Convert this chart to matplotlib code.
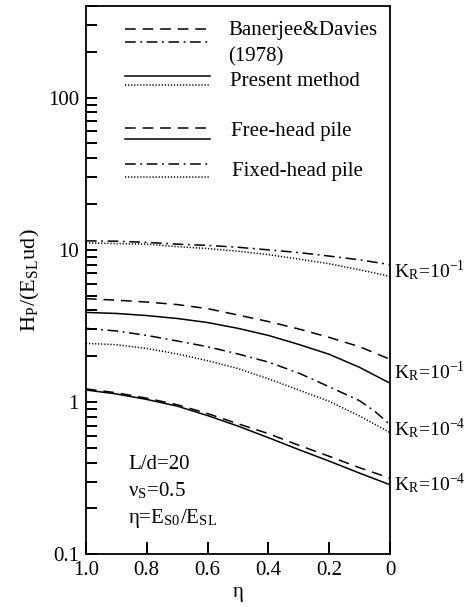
import numpy as np
import matplotlib
matplotlib.use("Agg")
import matplotlib.pyplot as plt
from matplotlib.ticker import FixedLocator, FixedFormatter, LogLocator, NullFormatter

plt.rcParams["font.family"] = ["Liberation Serif", "DejaVu Serif"]
plt.rcParams["mathtext.fontset"] = "stix"

# eta = E_S0 / E_SL  (plotted from 1.0 down to 0)
eta = [1.0, 0.9, 0.8, 0.7, 0.6, 0.5, 0.4, 0.3, 0.2, 0.1, 0.0]
eta_fix4 = [1.0, 0.9, 0.8, 0.7, 0.6, 0.5, 0.4, 0.3, 0.2, 0.1, 0.05, 0.0]

# K_R = 1e-1
fixed_bd_1 = [11.45, 11.4, 11.2, 10.9, 10.7, 10.4, 10.0, 9.6, 9.1, 8.6, 8.0]
fixed_pm_1 = [11.1, 11.0, 10.9, 10.5, 10.2, 9.8, 9.3, 8.7, 8.1, 7.4, 6.7]
free_bd_1 = [4.78, 4.67, 4.54, 4.37, 4.11, 3.73, 3.38, 3.02, 2.66, 2.31, 1.91]
free_pm_1 = [3.88, 3.82, 3.70, 3.54, 3.33, 3.05, 2.74, 2.39, 2.06, 1.69, 1.33]

# K_R = 1e-4
fixed_bd_4 = [3.05, 2.93, 2.74, 2.52, 2.31, 2.07, 1.83, 1.55, 1.26, 1.02, 0.87, 0.71]
fixed_pm_4 = [2.43, 2.38, 2.25, 2.07, 1.87, 1.66, 1.42, 1.20, 1.01, 0.81, 0.63]
free_bd_4 = [1.22, 1.15, 1.06, 0.96, 0.84, 0.72, 0.62, 0.52, 0.44, 0.37, 0.316]
free_pm_4 = [1.20, 1.13, 1.04, 0.94, 0.815, 0.695, 0.583, 0.487, 0.409, 0.341, 0.286]

xticks = [1.0, 0.8, 0.6, 0.4, 0.2, 0.0]
xtick_labels = ["1.0", "0.8", "0.6", "0.4", "0.2", "0"]
yticks = [0.1, 1, 10, 100]
ytick_labels = ["0.1", "1", "10", "100"]

DASH = (0, (7, 4.5))
DASHDOT = (0, (7, 3, 1.2, 3))
DOT = (0, (0.8, 1.2))
FS = 15

fig = plt.figure(figsize=(4.67, 6.07), dpi=100)
ax = fig.add_axes([0.184, 0.087, 0.651, 0.903])

lw = 1.1
ax.plot(eta, fixed_bd_1, color="black", lw=lw, ls=DASHDOT)
ax.plot(eta, fixed_pm_1, color="black", lw=lw, ls=DOT)
ax.plot(eta, free_bd_1, color="black", lw=lw, ls=DASH)
ax.plot(eta, free_pm_1, color="black", lw=lw, ls="-")
ax.plot(eta_fix4, fixed_bd_4, color="black", lw=lw, ls=DASHDOT)
ax.plot(eta, fixed_pm_4, color="black", lw=lw, ls=DOT)
ax.plot(eta, free_bd_4, color="black", lw=lw, ls=DASH)
ax.plot(eta, free_pm_4, color="black", lw=lw, ls="-")

ax.set_yscale("log")
ax.set_ylim(0.1, 400)
ax.set_xlim(1.0, 0.0)

ax.yaxis.set_major_locator(FixedLocator(yticks))
ax.yaxis.set_major_formatter(FixedFormatter(ytick_labels))
ax.yaxis.set_minor_locator(LogLocator(base=10, subs=range(2, 10)))
ax.yaxis.set_minor_formatter(NullFormatter())
ax.xaxis.set_major_locator(FixedLocator(xticks))
ax.xaxis.set_major_formatter(FixedFormatter(xtick_labels))

ax.tick_params(axis="y", which="both", direction="in", length=8, width=1.4,
               right=False, labelsize=FS, pad=5)
ax.tick_params(axis="x", which="both", direction="in", length=9, width=1.4,
               top=False, labelsize=FS, pad=5)
for s in ax.spines.values():
    s.set_linewidth(1.3)

ax.set_xlabel("η", fontsize=FS, labelpad=2)
ax.set_ylabel(r"H$_\mathregular{P}$/(E$_\mathregular{SL}$ud)", fontsize=16, labelpad=4)

# end-of-curve labels
def kr_label(y0, y1, text, dy=1.0):
    yc = np.sqrt(y0 * y1) / dy
    ax.text(1.012, yc, text, transform=ax.get_yaxis_transform(),
            fontsize=14, ha="left", va="center", clip_on=False)

kr_label(fixed_bd_1[-1], fixed_pm_1[-1], r"K$_\mathregular{R}$=10$^\mathregular{-1}$")
kr_label(free_bd_1[-1], free_pm_1[-1], r"K$_\mathregular{R}$=10$^\mathregular{-1}$")
kr_label(fixed_bd_4[-1], fixed_pm_4[-1], r"K$_\mathregular{R}$=10$^\mathregular{-4}$")
kr_label(free_bd_4[-1], free_pm_4[-1], r"K$_\mathregular{R}$=10$^\mathregular{-4}$", dy=1.04)

# legend drawn by hand
tr = ax.transAxes
x0, x1 = 0.128, 0.408
leg_lines = [
    (0.958, DASH), (0.934, DASHDOT),
    (0.872, "-"), (0.856, DOT),
    (0.777, DASH), (0.757, "-"),
    (0.712, DASHDOT), (0.688, DOT),
]
for yy, st in leg_lines:
    ax.plot([x0, x1], [yy, yy], transform=tr, color="black", lw=lw, ls=st)

ax.text(0.467, 0.956, "Banerjee&Davies", transform=tr, fontsize=FS, va="center")
ax.text(0.467, 0.907, "(1978)", transform=tr, fontsize=FS, va="center")
ax.text(0.475, 0.863, "Present method", transform=tr, fontsize=FS, va="center")
ax.text(0.478, 0.772, "Free-head pile", transform=tr, fontsize=FS, va="center")
ax.text(0.481, 0.699, "Fixed-head pile", transform=tr, fontsize=FS, va="center")

# parameters
ax.text(0.138, 0.163, "L/d=20", transform=tr, fontsize=FS, va="center")
ax.text(0.138, 0.116, r"ν$_\mathregular{S}$=0.5", transform=tr, fontsize=FS, va="center")
ax.text(0.138, 0.066, r"η=E$_\mathregular{S0}$/E$_\mathregular{SL}$", transform=tr,
        fontsize=FS, va="center")

fig.savefig("out.png", dpi=100)
